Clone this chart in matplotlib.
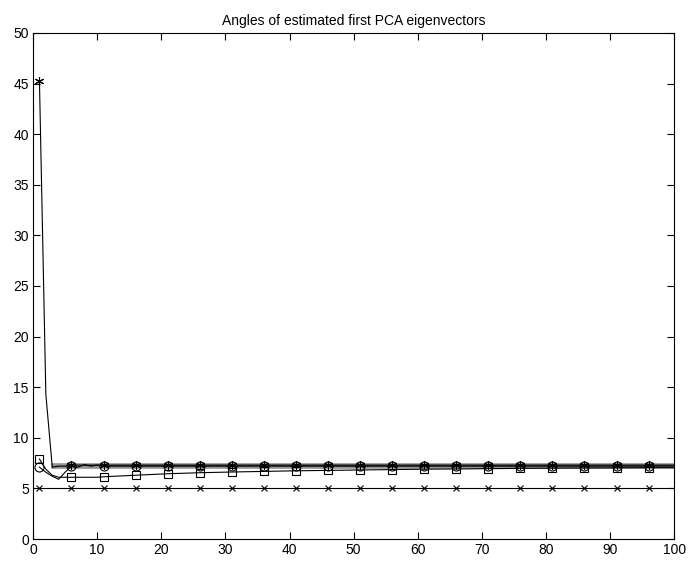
import matplotlib.pyplot as plt
import numpy as np

plt.rcParams['font.family'] = ['Liberation Sans', 'DejaVu Sans']

# x positions where the curves are sampled (dense at the start, every 5 afterwards)
x_line = [1, 2, 3, 4, 5, 6, 7, 8, 9, 10, 11, 16, 21, 26, 31, 36, 41, 46, 51, 56,
          61, 66, 71, 76, 81, 86, 91, 96, 100]

star_line = [45.3, 14.3, 7.1, 7.2, 7.2, 7.3, 7.3, 7.3, 7.3, 7.3, 7.3, 7.3, 7.3, 7.3,
             7.3, 7.3, 7.3, 7.3, 7.3, 7.3, 7.3, 7.3, 7.3, 7.3, 7.3, 7.3, 7.3, 7.3, 7.3]
circle_line = [7.1, 6.6, 6.2, 5.9, 6.6, 7.2, 7.1, 7.35, 7.2, 7.3, 7.2, 7.2, 7.2, 7.2,
               7.2, 7.2, 7.2, 7.2, 7.2, 7.2, 7.2, 7.2, 7.2, 7.2, 7.2, 7.2, 7.2, 7.2, 7.2]
square_line = [7.9, 6.9, 6.3, 6.1, 6.1, 6.1, 6.1, 6.1, 6.1, 6.1, 6.15, 6.3, 6.45, 6.55,
               6.62, 6.68, 6.74, 6.78, 6.82, 6.86, 6.9, 6.92, 6.95, 6.98, 7.0, 7.02, 7.03, 7.05, 7.05]
cross_line = [5, 5, 5, 5, 5, 5, 5, 5, 5, 5, 5, 5, 5, 5, 5, 5, 5, 5, 5, 5,
              5, 5, 5, 5, 5, 5, 5, 5, 5]

# grey band of the remaining runs
x_grey = [3, 100]
grey_runs = [[7.05, 7.05], [7.15, 7.15], [7.25, 7.25], [7.35, 7.35], [7.45, 7.45]]

# markers every 5 iterations
x_mark = [1, 6, 11, 16, 21, 26, 31, 36, 41, 46, 51, 56, 61, 66, 71, 76, 81, 86, 91, 96]

fig = plt.figure(figsize=(6.88, 5.61), dpi=100)
ax = fig.add_axes([0.048, 0.0392, 0.932, 0.902])

for g in grey_runs:
    ax.plot(x_grey, g, color='#8c8c8c', lw=1.1)

ax.plot(x_line, square_line, color='k', lw=0.8)
ax.plot(x_line, circle_line, color='k', lw=0.8)
ax.plot(x_line, star_line, color='k', lw=0.8)
ax.plot(x_line, cross_line, color='k', lw=0.8)

def at_marks(vals):
    return [vals[x_line.index(x)] for x in x_mark]

ax.plot(x_mark, at_marks(square_line), ls='none', marker='s', ms=6, mfc='none', mec='k', mew=0.8)
ax.plot(x_mark, at_marks(circle_line), ls='none', marker='o', ms=6.5, mfc='none', mec='k', mew=0.8)
ax.plot(x_mark, at_marks(star_line), ls='none', marker=(6, 2, 0), ms=6.5, mec='k', mew=0.8)
ax.plot(x_mark, at_marks(cross_line), ls='none', marker='x', ms=4.5, mec='k', mew=0.8)

ax.set_xlim(0, 100)
ax.set_ylim(0, 50)
ax.set_xticks(np.arange(0, 101, 10))
ax.set_yticks(np.arange(0, 51, 5))
ax.tick_params(direction='in', length=5, width=0.8, labelsize=10,
               top=True, right=True, pad=3)
for s in ax.spines.values():
    s.set_linewidth(0.8)
ax.set_title('Angles of estimated first PCA eigenvectors', fontsize=10, pad=6)

fig.savefig('out.png', dpi=100)
